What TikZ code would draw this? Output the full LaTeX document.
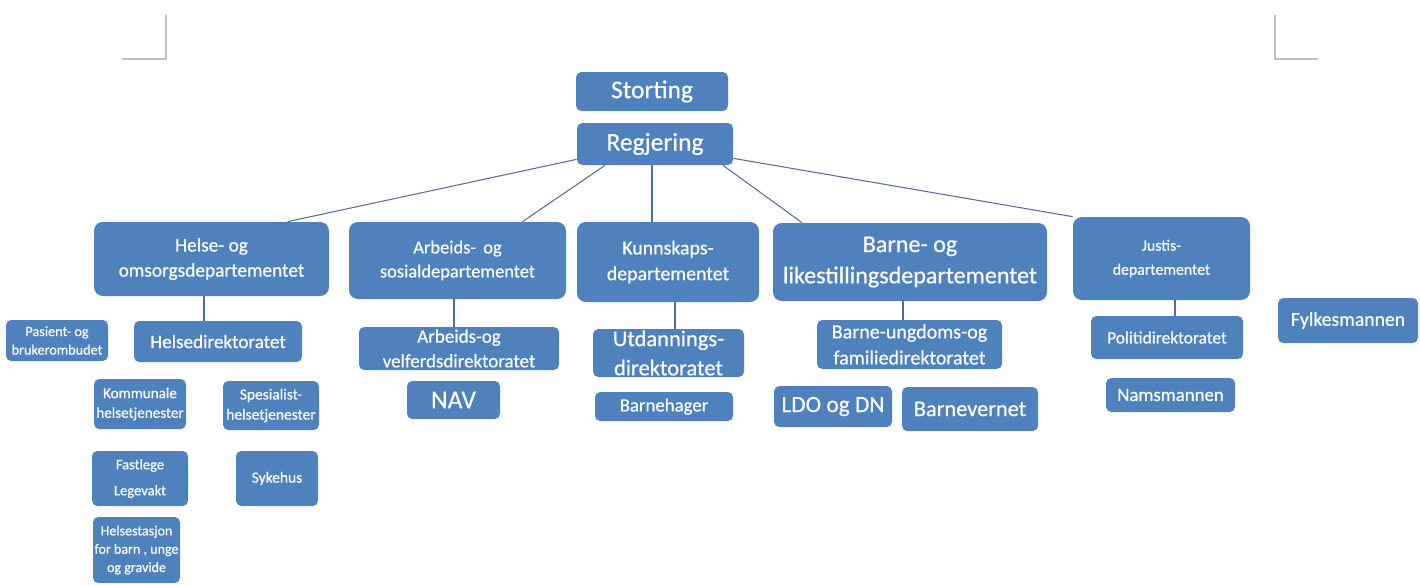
\documentclass[tikz,border=0pt]{standalone}
\usepackage{fontspec}
\setmainfont{Carlito}[FakeBold=0.4]
\usetikzlibrary{calc}
\definecolor{boxblue}{RGB}{79,129,189}
\definecolor{linec}{RGB}{84,110,156}
\definecolor{markgray}{RGB}{191,191,191}

\begin{document}
\begin{tikzpicture}[x=0.02cm, y=-0.02cm,
  box/.style={fill=boxblue, text=white, rounded corners=3pt, align=center, inner sep=0pt},
  dept/.style={box, rounded corners=5pt},
  sz/.style 2 args={minimum width=#1*0.02cm, minimum height=#2*0.02cm},
  fs/.style={font=\fontsize{#1}{\fpeval{1.3*#1}}\selectfont},
  conn/.style={draw=linec, line width=0.6pt}]
  \useasboundingbox (0,0) rectangle (1420,585);
  % corner marks
  \draw[markgray, line width=0.8pt] (166,15) -- (166,59) -- (122,59);
  \draw[markgray, line width=0.8pt] (1275,15) -- (1275,59) -- (1318,59);
  % top
  \node[box, sz={152}{39}, fs=14.5] (sto) at (652,91.5) {Storting};
  \node[box, sz={156}{42}, fs=14.5] (reg) at (655,144) {Regjering};
  % departments
  \node[dept, sz={235}{74}, fs=11] (hod) at (211.5,259) {Helse- og\\omsorgsdepartementet};
  \node[dept, sz={217}{77}, fs=10.5] (asd) at (457.5,260.5) {Arbeids-\, og\\sosialdepartementet};
  \node[dept, sz={182}{80}, fs=11.3] (kd) at (668,262) {Kunnskaps-\\departementet};
  \node[dept, sz={274}{78}, fs=13.7] (bld) at (910,262) {Barne- og\\likestillingsdepartementet};
  \node[dept, sz={177}{83}, fs=9] (jd) at (1161.5,258.5) {Justis-\\[2pt]departementet};
  \node[box, sz={140}{45}, fs=11.2] (fylk) at (1348,320.5) {Fylkesmannen};
  % helse
  \node[box, sz={102}{41}, fs=8.1] (pas) at (57,340.5) {Pasient- og\\brukerombudet};
  \node[box, sz={168}{41}, fs=10.9] (hdir) at (218,341.5) {Helsedirektoratet};
  \node[box, sz={92}{50}, fs=8.6] (kom) at (140,404) {Kommunale\\helsetjenester};
  \node[box, sz={96}{49}, fs=8.8] (spes) at (271,405.5) {Spesialist-\\helsetjenester};
  \node[box, sz={96}{55}, fs=8.3] (fast) at (140,478.5) {Fastlege\\[4pt]Legevakt};
  \node[box, sz={82}{55}, fs=8.8] (syk) at (277,478.5) {Sykehus};
  \node[box, sz={87}{66}, fs=8] (hst) at (136.5,550) {Helsestasjon\\for barn , unge\\og gravide};
  % arbeid
  \node[box, sz={200}{43}, fs=10.8] (avdir) at (459,348.5) {Arbeids-og\\velferdsdirektoratet};
  \node[box, sz={93}{38}, fs=14.6] (nav) at (453.5,400) {NAV};
  % kunnskap
  \node[box, sz={151}{48}, fs=12.8] (udir) at (668.5,353) {Utdannings-\\direktoratet};
  \node[box, sz={138}{29}, fs=10.7] (bhg) at (664,406.5) {Barnehager};
  % barne
  \node[box, sz={185}{49}, fs=11.4] (bufdir) at (909.5,344.5) {Barne-ungdoms-og\\familiedirektoratet};
  \node[box, sz={118}{41}, fs=13.3] (ldo) at (833,406.5) {LDO og DN};
  \node[box, sz={136}{44}, fs=12.7] (bvern) at (970,409) {Barnevernet};
  % justis
  \node[box, sz={152}{43}, fs=9.9] (pdir) at (1167,337.5) {Politidirektoratet};
  \node[box, sz={129}{34}, fs=10.7] (nams) at (1170.5,395) {Namsmannen};
  % connectors
  \draw[conn] ($(reg.south west)+(0,-6)$) -- ($(hod.north)+(76,0)$);
  \draw[conn] ($(reg.south)+(-50,0)$) -- ($(asd.north)+(65,0)$);
  \draw[conn] (reg.south -| 652,0) -- (kd.north -| 652,0);
  \draw[conn] ($(reg.south)+(68,0)$) -- ($(bld.north)+(-108,0)$);
  \draw[conn] ($(reg.south east)+(0,-7)$) -- (jd.north west);
  \draw[conn] (hod.south -| 204,0) -- (hdir.north -| 204,0);
  \draw[conn] (asd.south -| 454,0) -- (avdir.north -| 454,0);
  \draw[conn] (kd.south -| 675,0) -- (udir.north -| 675,0);
  \draw[conn] (bld.south -| 903,0) -- (bufdir.north -| 903,0);
  \draw[conn] (jd.south -| 1175,0) -- (pdir.north -| 1175,0);
\end{tikzpicture}
\end{document}
